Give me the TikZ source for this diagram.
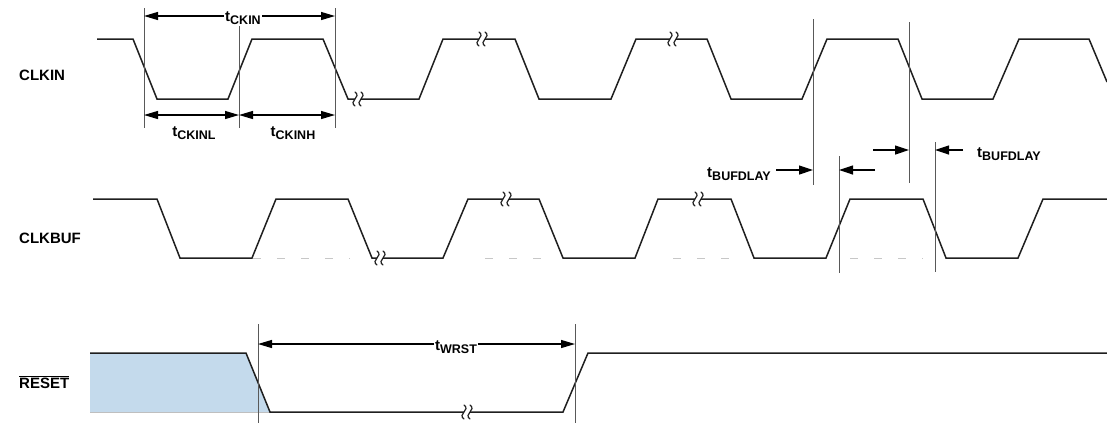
\documentclass[tikz,border=0pt]{standalone}
\usepackage{fontspec}
\setmainfont{Liberation Sans}
\usetikzlibrary{arrows.meta}
\newcommand\tsub[1]{t\raisebox{-3pt}{\fontsize{12.5}{12.5}\selectfont #1}}
\begin{document}
\begin{tikzpicture}[x=1pt,y=-1pt,
  wave/.style={line width=1.5pt, draw=black!88, line join=miter},
  refl/.style={line width=0.9pt, draw=black!65},
  dim/.style={line width=1.2pt, {Triangle[length=14pt,width=8pt]}-{Triangle[length=14pt,width=8pt]}},
  dimr/.style={line width=1.2pt, -{Triangle[length=14pt,width=9pt]}},
  sig/.style={font=\fontsize{15}{15}\selectfont\bfseries, inner sep=0pt, anchor=west},
  tl/.style={font=\fontsize{15}{15}\selectfont\bfseries, inner sep=1.5pt, fill=white},
  tlb/.style={font=\fontsize{15}{15}\selectfont\bfseries, inner sep=0pt},
  artifact/.style={draw=black!22, line width=1pt, dash pattern=on 8pt off 16pt},
  brk/.pic={
    \fill[white] (-3,-4) -- (3,-4) -- (3,4) -- (-3,4) -- cycle;
    \draw[line width=1.2pt, black!88, line cap=round] (-3,-7) .. controls (4,-2) and (-10,2) .. (-3,7);
    \draw[line width=1.2pt, black!88, line cap=round] (3,-7) .. controls (10,-2) and (-4,2) .. (3,7);
  }]
\useasboundingbox (0,0) rectangle (1107,424);

% signal names
\node[sig] (lclkin) at (19,75) {CLKIN};
\node[sig] (lclkbuf) at (19,238) {CLKBUF};
\node[sig] (lreset) at (19,382) {$\overline{\hbox{\fontsize{15}{15}\selectfont\bfseries RESET}}$};

% RESET shaded region
\fill[fill={rgb,255:red,196;green,218;blue,236}] (90,353) -- (246,353) -- (270,412) -- (90,412) -- cycle;
\draw[black!25, line width=0.8pt] (90,412) -- (270,412);

% artifact dashes under CLKBUF
\draw[artifact] (253,258) -- (350,258);
\draw[artifact] (485,258) -- (542,258);
\draw[artifact] (673,258) -- (737,258);
\draw[artifact] (850,258) -- (923,258);

% waveforms
\draw[wave] (97,39) -- (133,39) -- (157,99) -- (228,99) -- (252,39) -- (323,39) -- (348,99)
  -- (419,99) -- (443,39) -- (515,39) -- (539,99) -- (611,99) -- (636,39) -- (707,39)
  -- (731,99) -- (802,99) -- (827,39) -- (898,39) -- (922,99) -- (993,99) -- (1019,39)
  -- (1089,39) -- (1107,82);
\draw[wave] (93,199) -- (157,199) -- (180,258) -- (252,258) -- (276,199) -- (348,199)
  -- (372,258) -- (443,258) -- (468,199) -- (539,199) -- (563,258) -- (635,258)
  -- (658,199) -- (731,199) -- (754,258) -- (826,258) -- (850,199) -- (923,199)
  -- (946,258) -- (1018,258) -- (1043,199) -- (1107,199);
\draw[wave] (90,353) -- (246,353) -- (270,412) -- (563,412) -- (588,353) -- (1107,353);

% break marks
\pic at (358,99) {brk};
\pic at (482,39) {brk};
\pic at (673,39) {brk};
\pic at (380,258) {brk};
\pic at (506,199) {brk};
\pic at (698,199) {brk};
\pic at (467,412) {brk};

% reference lines
\coordinate (a1) at (144,8);   \coordinate (a2) at (144,128);
\coordinate (b1) at (239,23);  \coordinate (b2) at (239,128);
\coordinate (c1) at (335,8);   \coordinate (c2) at (335,128);
\coordinate (d1) at (813,19);  \coordinate (d2) at (813,185);
\coordinate (e1) at (909,22);  \coordinate (e2) at (909,183);
\coordinate (f1) at (839,156); \coordinate (f2) at (839,273);
\coordinate (g1) at (935,142); \coordinate (g2) at (935,272);
\coordinate (h1) at (258,324); \coordinate (h2) at (258,423);
\coordinate (i1) at (575,324); \coordinate (i2) at (575,423);
\foreach \p in {a,b,c,d,e,f,g,h,i} \draw[refl] (\p1) -- (\p2);

% tCKIN
\coordinate (ck1) at (144,16); \coordinate (ck2) at (335,16);
\draw[dim] (ck1) -- (ck2);
\node[tl, anchor=base] (tckin) at (243,21) {\tsub{CKIN}};
% tCKINL / tCKINH
\coordinate (cl1) at (144,115); \coordinate (cl2) at (239,115); \coordinate (cl3) at (335,115);
\draw[dim] (cl1) -- (cl2);
\draw[dim] (cl2) -- (cl3);
\node[tlb, anchor=base] (tckinl) at (194,136) {\tsub{CKINL}};
\node[tlb, anchor=base] (tckinh) at (293,136) {\tsub{CKINH}};

% tBUFDLAY
\coordinate (p1) at (776,170); \coordinate (p2) at (813,170);
\coordinate (q1) at (875,170); \coordinate (q2) at (839,170);
\coordinate (r1) at (873,150); \coordinate (r2) at (909,150);
\coordinate (s1) at (963,150); \coordinate (s2) at (935,150);
\draw[dimr] (p1) -- (p2);
\draw[dimr] (q1) -- (q2);
\draw[dimr] (r1) -- (r2);
\draw[dimr] (s1) -- (s2);
\node[tlb, anchor=base east] (tbuf1) at (771,177) {\tsub{BUFDLAY}};
\node[tlb, anchor=base west] (tbuf2) at (977,157) {\tsub{BUFDLAY}};

% tWRST
\coordinate (w1) at (258,344); \coordinate (w2) at (575,344);
\draw[dim] (w1) -- (w2);
\node[tl, anchor=base] (twrst) at (456,350) {\tsub{WRST}};
\end{tikzpicture}
\end{document}
